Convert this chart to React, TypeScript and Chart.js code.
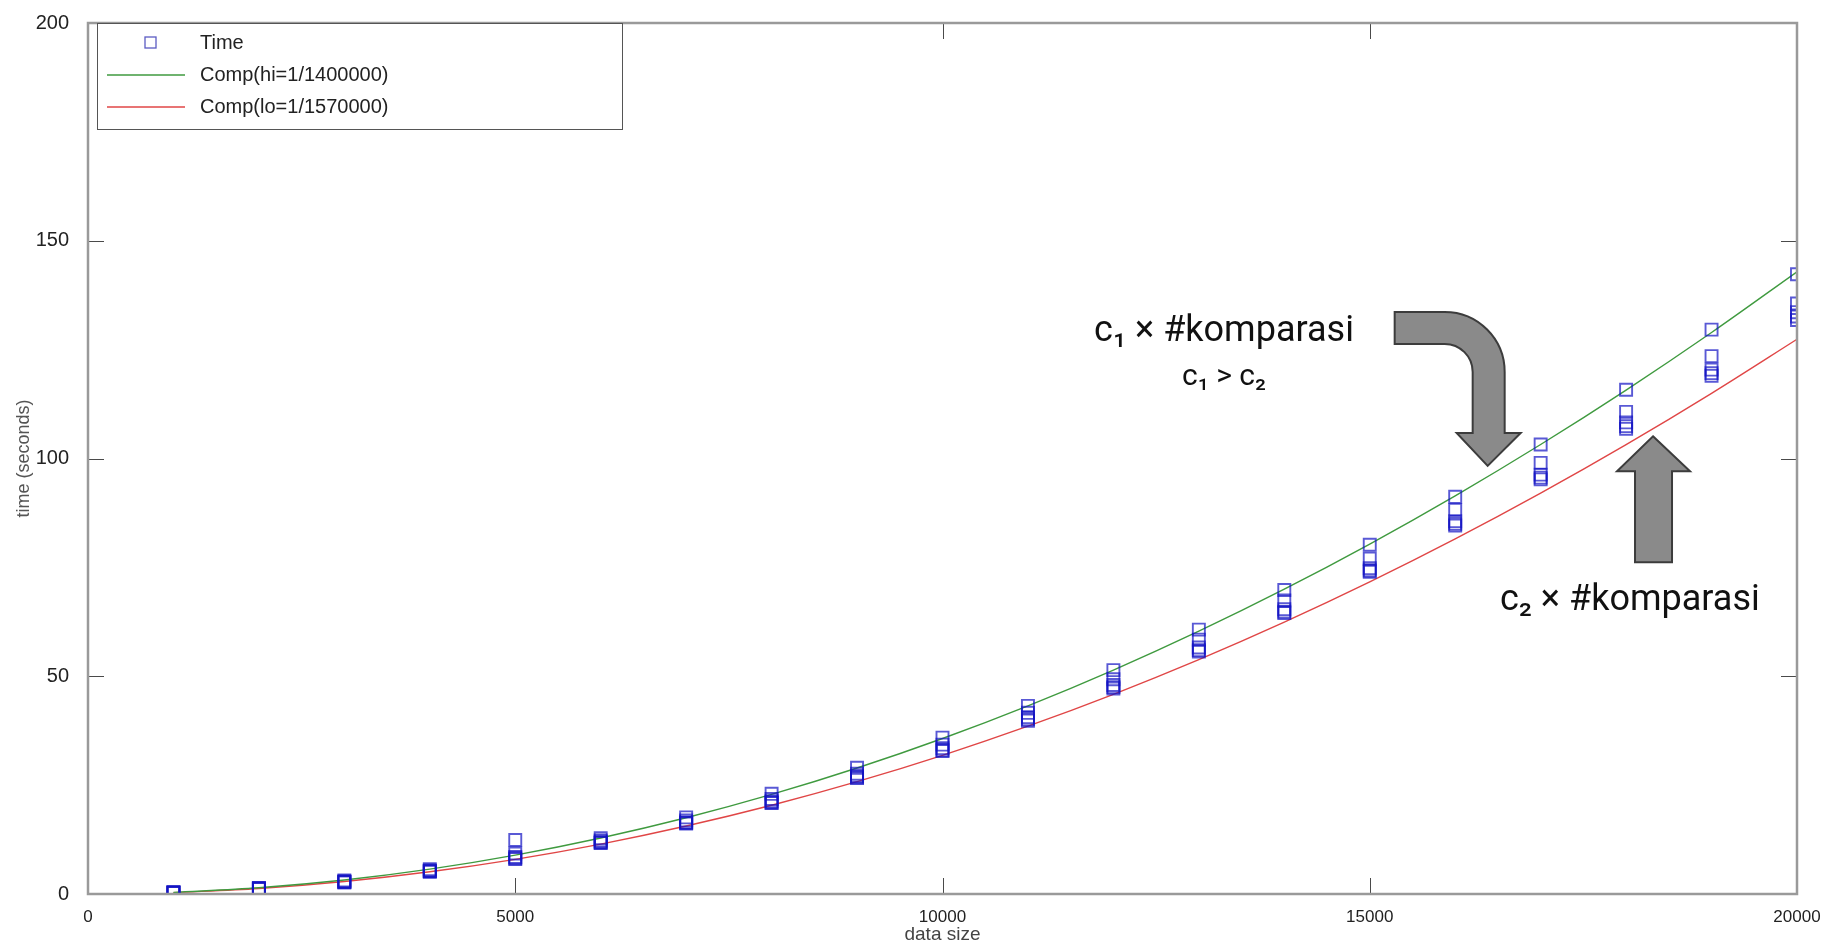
import React, { useEffect, useRef } from "react";
import { Chart, registerables } from "chart.js";

Chart.register(...registerables);

// ---------- data ----------
const dataSizes = [1000, 2000, 3000, 4000, 5000, 6000, 7000, 8000, 9000, 10000, 11000, 12000, 13000, 14000, 15000, 16000, 17000, 18000, 19000, 20000];

const timeRun1 = [0.4, 1.4, 3.1, 5.7, 12.4, 12.8, 17.6, 23.0, 29.0, 35.9, 43.2, 51.4, 60.7, 69.8, 80.2, 91.2, 103.2, 115.8, 129.6, 142.3];
const timeRun2 = [0.35, 1.3, 2.9, 5.4, 9.3, 12.3, 16.9, 21.8, 27.6, 34.3, 41.6, 49.3, 58.4, 67.4, 77.0, 88.2, 99.0, 110.7, 123.5, 135.6];
const timeRun3 = [0.32, 1.25, 2.8, 5.3, 8.5, 12.0, 16.5, 21.3, 27.1, 33.5, 40.6, 48.0, 56.6, 65.4, 74.8, 85.6, 96.3, 108.3, 120.4, 133.6];
const timeRun4 = [0.3, 1.2, 2.7, 5.2, 8.2, 11.8, 16.3, 21.0, 26.8, 33.0, 40.1, 47.5, 56.0, 64.8, 74.3, 85.0, 95.6, 107.4, 119.6, 132.6];
const timeRun5 = [0.3, 1.2, 2.7, 5.1, 8.0, 11.7, 16.2, 20.9, 26.6, 32.8, 39.8, 47.2, 55.7, 64.5, 74.0, 84.6, 95.2, 106.8, 119.0, 131.8];

const compHi = [0.36, 1.43, 3.21, 5.71, 8.93, 12.86, 17.5, 22.86, 28.93, 35.71, 43.21, 51.43, 60.36, 70.0, 80.36, 91.43, 103.21, 115.71, 128.93, 142.86];
const compLo = [0.32, 1.27, 2.87, 5.1, 7.96, 11.46, 15.61, 20.38, 25.8, 31.85, 38.54, 45.86, 53.82, 62.42, 71.66, 81.53, 92.04, 103.18, 114.97, 127.39];

const seriesLabels = ["Time", "Comp(hi=1/1400000)", "Comp(lo=1/1570000)"];
const xTickValues = [0, 5000, 10000, 15000, 20000];
const yTickValues = [0, 50, 100, 150, 200];
const xAxisTitle = "data size";
const yAxisTitle = "time (seconds)";

const annotationLine1 = "c\u2081 \u00d7 #komparasi";
const annotationLine2 = "c\u2081 > c\u2082";
const annotationLine3 = "c\u2082 \u00d7 #komparasi";
// anchors of annotations in data units [x, y]
const bentArrowTip = [16380, 98.3];
const upArrowTip = [18315, 105.1];
const line1Anchor = [13294, 127.0];
const line2Anchor = [13294, 116.8];
const line3Anchor = [16523, 65.2];

// ---------- styling ----------
const BLUE = "rgba(18, 18, 195, 0.7)";
const GREEN = "#3f9a3f";
const RED = "#e04646";
const FRAME = "#9a9a9a";
const TICK = "#4a4a4a";
const TEXT = "#222";
const SANS = '"Liberation Sans", Arial, Helvetica, sans-serif';

const timeRuns = [timeRun1, timeRun2, timeRun3, timeRun4, timeRun5];
const timePoints = timeRuns.flatMap((run) => run.map((v, i) => ({ x: dataSizes[i], y: v })));

function drawBentArrow(ctx: CanvasRenderingContext2D, tx: number, ty: number) {
  const cx = tx - 43;
  const cy = ty - 94;
  ctx.beginPath();
  ctx.moveTo(tx - 93, ty - 154);
  ctx.lineTo(cx, ty - 154);
  ctx.arc(cx, cy, 60, -Math.PI / 2, 0, false);
  ctx.lineTo(tx + 17, ty - 33);
  ctx.lineTo(tx + 33, ty - 33);
  ctx.lineTo(tx, ty);
  ctx.lineTo(tx - 31, ty - 33);
  ctx.lineTo(tx - 15, ty - 33);
  ctx.lineTo(tx - 15, cy);
  ctx.arc(cx, cy, 28, 0, -Math.PI / 2, true);
  ctx.lineTo(tx - 93, ty - 122);
  ctx.closePath();
  ctx.fillStyle = "#8a8a8a";
  ctx.fill();
  ctx.lineWidth = 2;
  ctx.strokeStyle = "#3c3c3c";
  ctx.stroke();
}

function drawUpArrow(ctx: CanvasRenderingContext2D, tx: number, ty: number) {
  ctx.beginPath();
  ctx.moveTo(tx, ty);
  ctx.lineTo(tx + 37, ty + 35);
  ctx.lineTo(tx + 19, ty + 35);
  ctx.lineTo(tx + 19, ty + 126);
  ctx.lineTo(tx - 18, ty + 126);
  ctx.lineTo(tx - 18, ty + 35);
  ctx.lineTo(tx - 36, ty + 35);
  ctx.closePath();
  ctx.fillStyle = "#8a8a8a";
  ctx.fill();
  ctx.lineWidth = 2;
  ctx.strokeStyle = "#3c3c3c";
  ctx.stroke();
}

const framePlugin = {
  id: "octaveFrame",
  afterDatasetsDraw(chart: any) {
    const { ctx, chartArea, scales } = chart;
    const { left, right, top, bottom } = chartArea;
    ctx.save();
    // inward ticks
    ctx.strokeStyle = TICK;
    ctx.lineWidth = 1;
    const tl = 16;
    xTickValues.slice(1, -1).forEach((v) => {
      const px = Math.round(scales.x.getPixelForValue(v)) + 0.5;
      ctx.beginPath();
      ctx.moveTo(px, bottom);
      ctx.lineTo(px, bottom - tl);
      ctx.moveTo(px, top);
      ctx.lineTo(px, top + tl);
      ctx.stroke();
    });
    yTickValues.slice(1, -1).forEach((v) => {
      const py = Math.round(scales.y.getPixelForValue(v)) + 0.5;
      ctx.beginPath();
      ctx.moveTo(left, py);
      ctx.lineTo(left + tl, py);
      ctx.moveTo(right, py);
      ctx.lineTo(right - tl, py);
      ctx.stroke();
    });
    // frame
    ctx.strokeStyle = FRAME;
    ctx.lineWidth = 2.5;
    ctx.strokeRect(left, top, right - left, bottom - top);

    // legend box
    const lx = 97, ly = 23, lw = 525, lh = 106;
    ctx.fillStyle = "#fff";
    ctx.fillRect(lx, ly, lw, lh);
    ctx.strokeStyle = "#555";
    ctx.lineWidth = 1;
    ctx.strokeRect(lx + 0.5, ly + 0.5, lw, lh);
    const rows = [43, 75, 107];
    ctx.font = `20px ${SANS}`;
    ctx.fillStyle = TEXT;
    ctx.textBaseline = "middle";
    ctx.textAlign = "left";
    const ds = chart.data.datasets;
    // Time marker
    ctx.strokeStyle = "rgba(50, 50, 180, 0.8)";
    ctx.lineWidth = 1.3;
    ctx.strokeRect(145, rows[0] - 6, 11, 11);
    ctx.fillText(ds[0].label, 200, rows[0]);
    [1, 2].forEach((k) => {
      ctx.strokeStyle = ds[k].borderColor;
      ctx.lineWidth = 1.4;
      ctx.beginPath();
      ctx.moveTo(107, rows[k]);
      ctx.lineTo(185, rows[k]);
      ctx.stroke();
      ctx.fillStyle = TEXT;
      ctx.fillText(ds[k].label, 200, rows[k]);
    });
    ctx.restore();
  },
  afterDraw(chart: any) {
    const { ctx, scales } = chart;
    const X = (v: number) => scales.x.getPixelForValue(v);
    const Y = (v: number) => scales.y.getPixelForValue(v);
    ctx.save();
    drawBentArrow(ctx, X(bentArrowTip[0]), Y(bentArrowTip[1]));
    drawUpArrow(ctx, X(upArrowTip[0]), Y(upArrowTip[1]));
    ctx.fillStyle = "#111";
    ctx.textBaseline = "alphabetic";
    ctx.font = '36px Roboto, "Noto Sans", sans-serif';
    ctx.textAlign = "center";
    ctx.fillText(annotationLine1, X(line1Anchor[0]), Y(line1Anchor[1]));
    ctx.font = '30px Roboto, "Noto Sans", sans-serif';
    ctx.fillText(annotationLine2, X(line2Anchor[0]), Y(line2Anchor[1]));
    ctx.font = '36px Roboto, "Noto Sans", sans-serif';
    ctx.textAlign = "left";
    ctx.fillText(annotationLine3, X(line3Anchor[0]), Y(line3Anchor[1]));
    ctx.restore();
  },
};

export default function App() {
  const canvasRef = useRef<HTMLCanvasElement | null>(null);

  useEffect(() => {
    const canvas = canvasRef.current;
    if (!canvas) return;
    const chart = new Chart(canvas, {
      type: "scatter",
      data: {
        datasets: [
          {
            label: seriesLabels[0],
            data: timePoints,
            showLine: false,
            pointStyle: "rect",
            pointRadius: 8.5,
            pointHoverRadius: 8.5,
            pointBorderWidth: 1.9,
            pointBorderColor: BLUE,
            pointBackgroundColor: "rgba(0,0,0,0)",
            borderColor: BLUE,
            order: 0,
          },
          {
            label: seriesLabels[1],
            data: dataSizes.map((x, i) => ({ x, y: compHi[i] })),
            showLine: true,
            borderColor: GREEN,
            borderWidth: 1.4,
            pointRadius: 0,
            cubicInterpolationMode: "monotone",
            order: 1,
          },
          {
            label: seriesLabels[2],
            data: dataSizes.map((x, i) => ({ x, y: compLo[i] })),
            showLine: true,
            borderColor: RED,
            borderWidth: 1.4,
            pointRadius: 0,
            cubicInterpolationMode: "monotone",
            order: 2,
          },
        ],
      },
      options: {
        responsive: false,
        animation: false,
        events: [],
        layout: { padding: { top: 17, right: 33, bottom: 0, left: 0 } },
        plugins: {
          legend: { display: false },
          tooltip: { enabled: false },
          title: { display: false },
        },
        scales: {
          x: {
            type: "linear",
            min: 0,
            max: 20000,
            afterFit: (s: any) => {
              s.height = 52;
            },
            afterBuildTicks: (s: any) => {
              s.ticks = xTickValues.map((value) => ({ value }));
            },
            grid: { display: false },
            border: { display: false },
            ticks: {
              padding: 5,
              color: TEXT,
              font: { family: SANS, size: 17 },
              maxRotation: 0,
              callback: (v: any) => String(v),
            },
            title: {
              display: true,
              text: xAxisTitle,
              color: "#444",
              font: { family: SANS, size: 19 },
              padding: { top: 0, bottom: 0 },
            },
          },
          y: {
            type: "linear",
            min: 0,
            max: 200,
            afterFit: (s: any) => {
              s.width = 88;
            },
            afterBuildTicks: (s: any) => {
              s.ticks = yTickValues.map((value) => ({ value }));
            },
            grid: { display: false },
            border: { display: false },
            ticks: {
              padding: 11,
              color: TEXT,
              font: { family: SANS, size: 20 },
              callback: (v: any) => String(v),
            },
            title: {
              display: true,
              text: yAxisTitle,
              color: "#555",
              font: { family: SANS, size: 18 },
              padding: { top: 13, bottom: 0 },
            },
          },
        },
      },
      plugins: [framePlugin],
    });
    return () => chart.destroy();
  }, []);

  return (
    <div style={{ position: "absolute", left: 0, top: 0, width: 1830, height: 946, background: "#fff" }}>
      <canvas ref={canvasRef} width={1830} height={946} style={{ display: "block", width: 1830, height: 946 }} />
    </div>
  );
}
